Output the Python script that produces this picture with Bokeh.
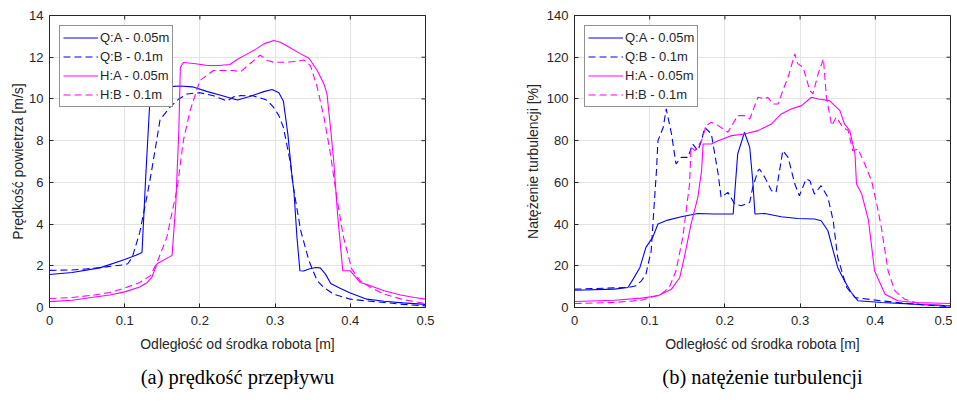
import math
from bokeh.plotting import figure
from bokeh.models import (Range1d, FixedTicker, Title, Legend, LegendItem)
from bokeh.layouts import row
from bokeh.embed import file_html
from bokeh.resources import INLINE

# ---------------- data: (a) air velocity ----------------
qa_v_x = [0, 0.03, 0.067, 0.1, 0.115, 0.123, 0.128, 0.133, 0.138, 0.15, 0.165, 0.174, 0.19, 0.21, 0.23, 0.245,
          0.25, 0.265, 0.285, 0.296, 0.305, 0.311, 0.317, 0.323, 0.325, 0.329, 0.333, 0.338, 0.345, 0.354, 0.36,
          0.367, 0.374, 0.385, 0.4, 0.422, 0.445, 0.47, 0.5]
qa_v_y = [1.58, 1.68, 1.9, 2.3, 2.5, 2.64, 6.3, 9.6, 10.0, 10.4, 10.6, 10.62, 10.58, 10.35, 10.15, 10.0,
          9.95, 10.1, 10.35, 10.45, 10.3, 9.9, 8.3, 6.1, 5.6, 3.4, 1.76, 1.75, 1.85, 1.92, 1.9,
          1.6, 1.15, 0.95, 0.7, 0.4, 0.3, 0.22, 0.15]

qb_v_x = [0, 0.03, 0.05, 0.075, 0.1, 0.104, 0.11, 0.12, 0.13, 0.136, 0.142, 0.147, 0.16, 0.172, 0.183, 0.2,
          0.218, 0.236, 0.245, 0.254, 0.27, 0.285, 0.29, 0.298, 0.305, 0.311, 0.32, 0.325, 0.334, 0.345,
          0.356, 0.365, 0.378, 0.4, 0.42, 0.445, 0.47, 0.5]
qb_v_y = [1.78, 1.8, 1.85, 1.95, 2.05, 2.1, 2.4, 3.6, 5.4, 6.6, 7.9, 9.0, 9.6, 10.0, 10.24, 10.3,
          10.15, 9.9, 10.1, 10.16, 10.15, 10.0, 9.92, 9.6, 9.2, 8.64, 7.0, 5.6, 3.7, 2.24,
          1.28, 0.95, 0.64, 0.4, 0.32, 0.24, 0.15, 0.08]

ha_v_x = [0, 0.03, 0.06, 0.08, 0.1, 0.12, 0.13, 0.136, 0.143, 0.163, 0.168, 0.172, 0.174, 0.178, 0.192, 0.21,
          0.225, 0.24, 0.25, 0.263, 0.275, 0.285, 0.298, 0.307, 0.32, 0.334, 0.345, 0.356, 0.365, 0.369,
          0.374, 0.378, 0.383, 0.39, 0.4, 0.406, 0.413, 0.422, 0.445, 0.467, 0.485, 0.5]
ha_v_y = [0.28, 0.35, 0.5, 0.6, 0.75, 0.98, 1.2, 1.44, 2.1, 2.5, 5.0, 8.5, 11.5, 11.75, 11.7, 11.6,
          11.6, 11.65, 11.9, 12.16, 12.4, 12.64, 12.8, 12.72, 12.45, 12.16, 11.95, 11.36, 10.72, 10.24,
          8.5, 7.0, 4.5, 1.76, 1.76, 1.5, 1.2, 1.1, 0.8, 0.6, 0.48, 0.4]

hb_v_x = [0, 0.03, 0.06, 0.08, 0.1, 0.12, 0.134, 0.143, 0.156, 0.17, 0.178, 0.187, 0.2, 0.218, 0.245, 0.254,
          0.267, 0.28, 0.29, 0.298, 0.311, 0.329, 0.338, 0.347, 0.356, 0.365, 0.373, 0.382, 0.391, 0.402,
          0.413, 0.427, 0.445, 0.47, 0.5]
hb_v_y = [0.43, 0.48, 0.6, 0.72, 0.93, 1.2, 1.52, 2.16, 3.36, 5.76, 8.0, 9.44, 10.88, 11.36, 11.36, 11.3,
          11.7, 12.1, 11.84, 11.76, 11.76, 11.8, 11.87, 11.6, 10.56, 9.12, 7.5, 5.28, 3.36, 1.84,
          1.28, 0.96, 0.64, 0.38, 0.19]

# ---------------- data: (b) turbulence intensity ----------------
qa_t_x = [0, 0.053, 0.071, 0.078, 0.087, 0.095, 0.104, 0.111, 0.124, 0.142, 0.164, 0.186, 0.209, 0.211,
          0.217, 0.226, 0.233, 0.237, 0.24, 0.253, 0.275, 0.297, 0.319, 0.328, 0.337, 0.344, 0.35, 0.359,
          0.368, 0.377, 0.408, 0.452, 0.5]
qa_t_y = [8.3, 8.8, 9.6, 13.6, 19.2, 28.8, 33.6, 40.0, 41.9, 43.5, 45.1, 44.8, 44.8, 44.8,
          73.6, 84.0, 76.8, 60.8, 44.8, 45.1, 43.5, 42.7, 42.4, 41.6, 36.8, 27.2, 19.2, 12.8,
          7.2, 3.2, 2.4, 1.6, 0.8]

qb_t_x = [0, 0.071, 0.082, 0.089, 0.095, 0.102, 0.106, 0.109, 0.111, 0.118, 0.122, 0.129, 0.135, 0.142,
          0.151, 0.157, 0.164, 0.169, 0.173, 0.182, 0.191, 0.195, 0.204, 0.213, 0.222, 0.233, 0.237, 0.244,
          0.246, 0.253, 0.262, 0.268, 0.277, 0.284, 0.293, 0.299, 0.308, 0.313, 0.319, 0.328, 0.337, 0.344,
          0.35, 0.362, 0.373, 0.408, 0.452, 0.5]
qb_t_y = [8.8, 9.6, 10.4, 12.8, 16.0, 27.2, 49.6, 65.6, 80.0, 86.4, 95.2, 83.2, 68.8, 72.0,
          72.0, 78.4, 75.2, 80.0, 86.4, 83.2, 64.0, 52.8, 55.2, 49.6, 48.8, 50.4, 57.6, 65.6,
          66.4, 62.4, 56.0, 55.2, 75.2, 72.0, 59.2, 53.6, 61.6, 60.8, 54.4, 58.4, 52.8, 41.6,
          24.0, 9.6, 4.8, 3.2, 1.6, 0.3]

ha_t_x = [0, 0.053, 0.089, 0.111, 0.129, 0.14, 0.146, 0.155, 0.164, 0.169, 0.171, 0.182, 0.191, 0.209,
          0.226, 0.244, 0.262, 0.275, 0.288, 0.302, 0.315, 0.324, 0.339, 0.353, 0.359, 0.366, 0.373, 0.375,
          0.382, 0.391, 0.399, 0.413, 0.43, 0.452, 0.5]
ha_t_y = [2.9, 3.5, 4.5, 5.6, 8.8, 14.4, 24.0, 40.0, 52.8, 65.6, 78.4, 78.4, 80.0, 82.4,
          83.2, 84.8, 88.0, 92.8, 95.2, 96.8, 100.8, 100.0, 99.2, 94.4, 88.0, 84.8, 73.6, 59.2,
          54.4, 41.6, 17.6, 6.4, 3.2, 2.4, 1.9]

hb_t_x = [0, 0.053, 0.089, 0.115, 0.126, 0.135, 0.144, 0.153, 0.155, 0.16, 0.169, 0.175, 0.182, 0.191,
          0.204, 0.217, 0.226, 0.233, 0.244, 0.253, 0.257, 0.264, 0.271, 0.277, 0.284, 0.293, 0.297, 0.304,
          0.313, 0.317, 0.324, 0.331, 0.335, 0.342, 0.348, 0.357, 0.364, 0.37, 0.377, 0.386, 0.395, 0.402,
          0.408, 0.417, 0.426, 0.439, 0.461, 0.5]
hb_t_y = [1.9, 2.4, 3.5, 6.4, 9.6, 17.6, 33.6, 59.2, 76.8, 75.2, 80.0, 87.2, 88.8, 87.2,
          84.0, 92.0, 92.0, 90.4, 100.8, 100.0, 100.8, 97.6, 97.6, 104.0, 110.4, 121.6, 116.8, 115.2,
          104.0, 102.4, 112.0, 119.2, 100.8, 87.2, 91.2, 86.4, 84.8, 75.2, 76.0, 68.8, 60.8, 49.6,
          38.4, 17.6, 8.0, 4.0, 1.6, 0.8]

series_labels = ["Q:A - 0.05m", "Q:B - 0.1m", "H:A - 0.05m", "H:B - 0.1m"]

x_ticks = [0, 0.1, 0.2, 0.3, 0.4, 0.5]
x_tick_labels = ["0", "0.1", "0.2", "0.3", "0.4", "0.5"]
yv_ticks = [0, 2, 4, 6, 8, 10, 12, 14]
yt_ticks = [0, 20, 40, 60, 80, 100, 120, 140]

x_label = "Odległość od środka robota [m]"
yv_label = "Prędkość powietrza [m/s]"
yt_label = "Natężenie turbulencji [%]"
cap_a = "(a) prędkość przepływu"
cap_b = "(b) natężenie turbulencji"

BLUE = "#0000ff"
MAG = "#ff00ff"
DARK = "#262626"
GRID = "#e3e3e3"
FONT = "Liberation Sans"


def make_fig(ymax, yticks, ylabel, caption, data, border_left, border_right, ylab_standoff):
    p = figure(frame_width=376, frame_height=292, output_backend="svg", toolbar_location=None,
               x_range=Range1d(0, 0.5), y_range=Range1d(0, ymax),
               min_border_left=border_left, min_border_top=15, min_border_right=border_right,
               min_border_bottom=8)
    p.background_fill_color = "white"
    p.border_fill_color = "white"
    p.outline_line_color = DARK
    p.outline_line_width = 1

    p.xaxis.ticker = FixedTicker(ticks=x_ticks)
    p.xaxis.major_label_overrides = {t: l for t, l in zip(x_ticks, x_tick_labels)}
    p.yaxis.ticker = FixedTicker(ticks=yticks)
    for ax in (p.xaxis[0], p.yaxis[0]):
        ax.axis_line_color = DARK
        ax.major_tick_line_color = DARK
        ax.major_tick_in = 4
        ax.major_tick_out = 0
        ax.minor_tick_line_color = None
        ax.major_label_text_font = FONT
        ax.major_label_text_font_size = "13px"
        ax.major_label_text_color = DARK
        ax.axis_label_text_font = FONT
        ax.axis_label_text_font_size = "14px"
        ax.axis_label_text_font_style = "normal"
        ax.axis_label_text_color = DARK
    p.xaxis.axis_label = x_label
    p.yaxis.axis_label = ylabel
    p.xaxis.major_label_standoff = 8
    p.xaxis.axis_label_standoff = 8
    p.yaxis.major_label_standoff = 6
    p.yaxis.axis_label_standoff = ylab_standoff

    # inward ticks on top and right edges (box style), from the tick lists
    p.scatter(x_ticks, [ymax] * len(x_ticks), marker="dash", size=8, angle=math.pi / 2,
              line_color=DARK, line_width=1)
    p.scatter([0.5] * len(yticks), yticks, marker="dash", size=8,
              line_color=DARK, line_width=1)

    p.xgrid.ticker = FixedTicker(ticks=x_ticks)
    p.ygrid.ticker = FixedTicker(ticks=yticks)
    p.grid.grid_line_color = GRID
    p.grid.grid_line_width = 1

    styles = [(BLUE, "solid"), (BLUE, "7 4"), (MAG, "solid"), (MAG, "7 4")]
    items = []
    for (xs, ys), (c, d), lab in zip(data, styles, series_labels):
        r = p.line(xs, ys, line_color=c, line_dash=d, line_width=1.1)
        items.append(LegendItem(label=lab, renderers=[r]))
    leg = Legend(items=items, location="top_left")
    leg.margin = 10
    leg.padding = 3
    leg.spacing = 2
    leg.glyph_width = 35
    leg.glyph_height = 17
    leg.label_height = 17
    leg.label_standoff = 2
    leg.label_text_font = FONT
    leg.label_text_font_size = "13px"
    leg.label_text_color = DARK
    leg.border_line_color = DARK
    leg.border_line_width = 1
    leg.background_fill_alpha = 1
    p.add_layout(leg, "center")

    cap = Title(text=caption, align="center", text_font="Liberation Serif",
                text_font_size="20.5px", text_font_style="normal", text_color="black",
                standoff=19)
    p.add_layout(cap, "below")
    return p


p1 = make_fig(14, yv_ticks, yv_label, cap_a,
              [(qa_v_x, qa_v_y), (qb_v_x, qb_v_y), (ha_v_x, ha_v_y), (hb_v_x, hb_v_y)], 49, 96, 0)
p2 = make_fig(140, yt_ticks, yt_label, cap_b,
              [(qa_t_x, qa_t_y), (qb_t_x, qb_t_y), (ha_t_x, ha_t_y), (hb_t_x, hb_t_y)], 52, 2, 3)

layout = row(p1, p2)
open("out.html", "w").write(file_html(layout, INLINE))
